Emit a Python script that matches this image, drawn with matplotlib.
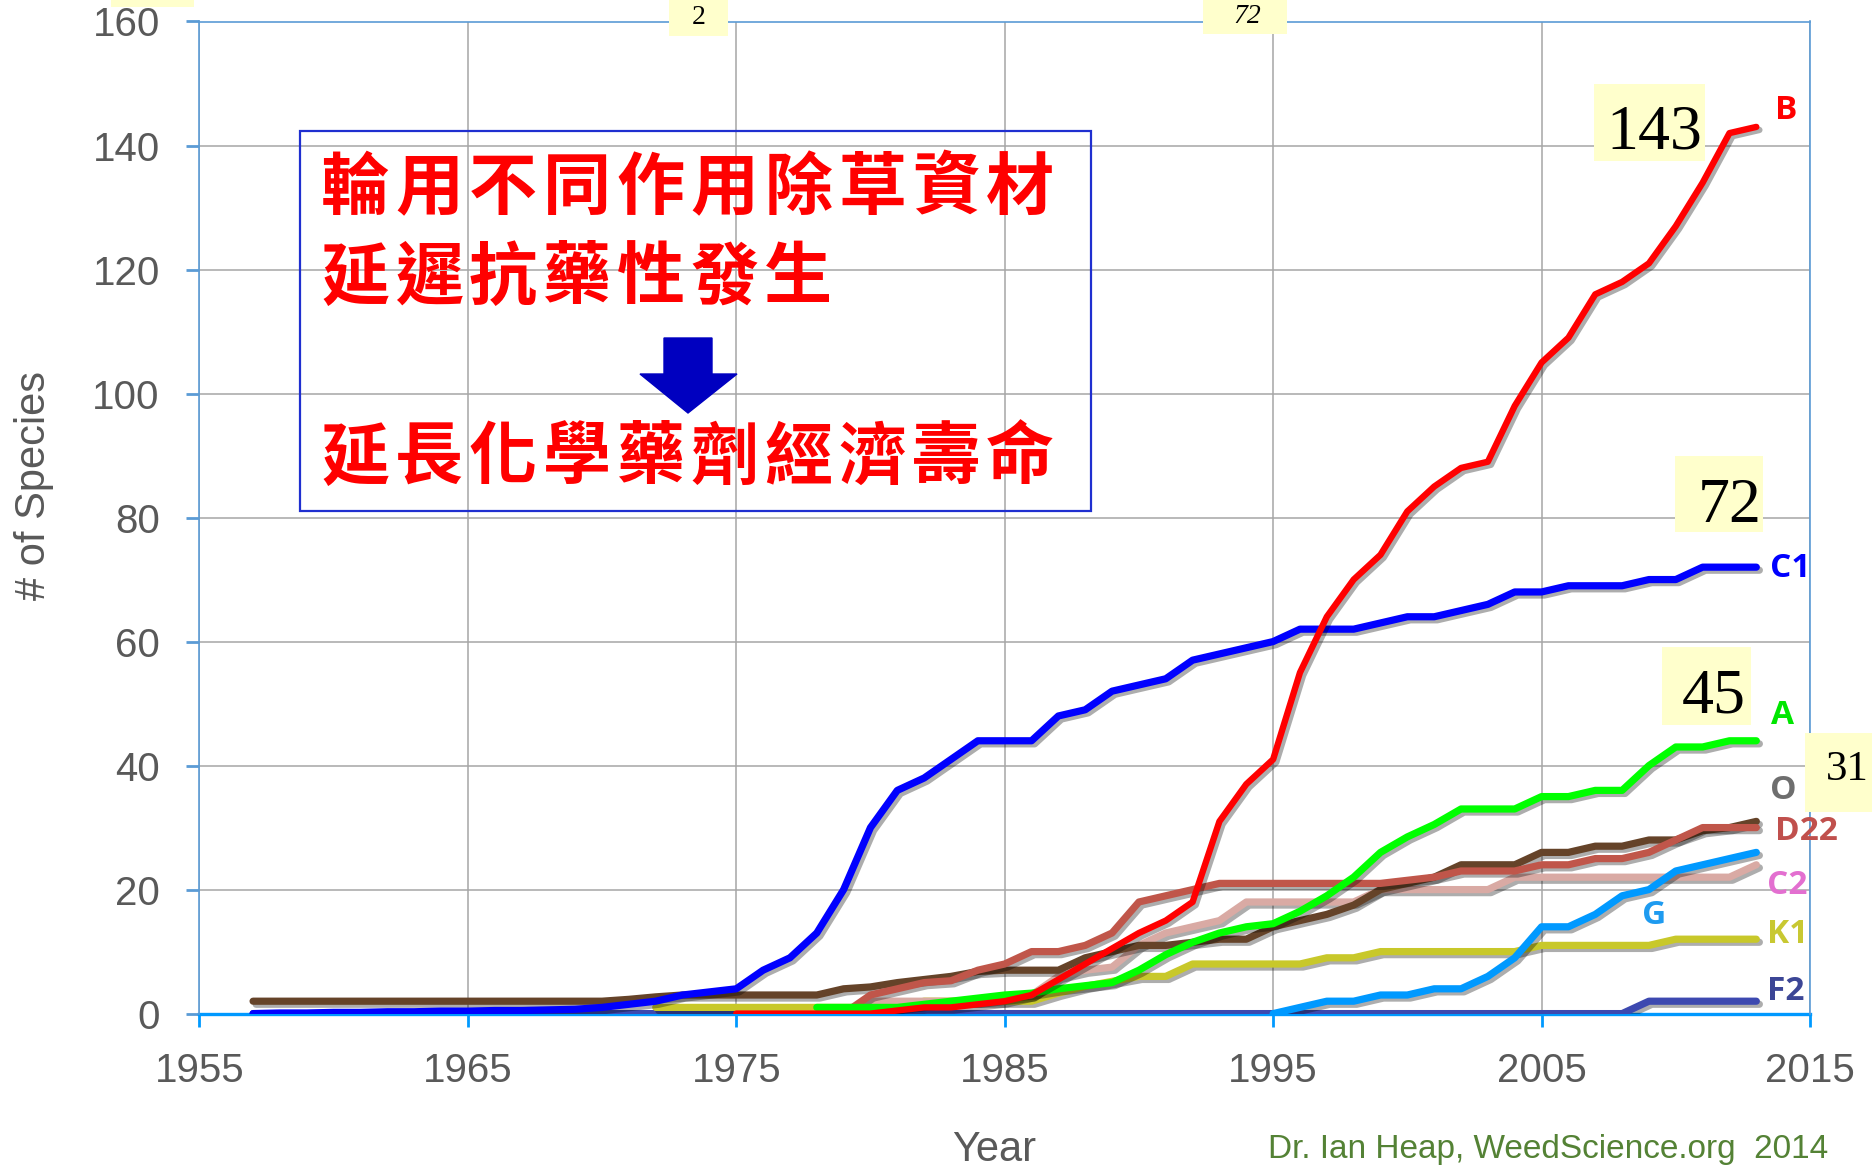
import matplotlib
matplotlib.use("Agg")
import matplotlib.pyplot as plt
import matplotlib.patheffects as pe
from matplotlib.patches import Rectangle, Polygon

# ---------------- data ----------------
series_names = ["F2", "K1", "C2", "G", "O", "D22", "A", "C1", "B"]

f2_start = 1957
f2_vals = [0] * 52 + [2, 2, 2, 2, 2]

k1_start = 1972
k1_vals = [1] * 10 + [2, 2, 2, 2, 2, 3.3, 4.4, 5.2, 6, 6, 8, 8, 8, 8, 8, 9, 9,
                      10, 10, 10, 10, 10, 10, 11, 11, 11, 11, 11, 12, 12, 12, 12]

c2_start = 1979
c2_vals = [0, 2, 2, 2, 2, 2, 2.5, 3, 6, 7, 7.5, 11, 13, 14, 15, 18, 18, 18, 18, 18,
           20, 20, 20, 20, 20, 22, 22, 22, 22, 22, 22, 22, 22, 22, 24]

g_start = 1995
g_vals = [0, 1, 2, 2, 3, 3, 4, 4, 6, 9, 14, 14, 16, 19, 20, 23, 24, 25, 26]

o_start = 1957
o_vals = [2] * 14 + [2.3, 2.7, 3, 3, 3, 3, 3, 3, 4, 4.3, 5, 5.5, 6, 6.8, 7, 7, 7, 9, 10,
                     11, 11, 11.5, 12, 12, 14, 15, 16, 17.5, 20, 21, 22, 24, 24, 24,
                     26, 26, 27, 27, 28, 28, 29.5, 30, 31]

d22_start = 1979
d22_vals = [0, 3, 4, 5, 5.3, 7, 8, 10, 10, 11, 13, 18, 19, 20, 21, 21, 21, 21, 21, 21,
            21, 21.5, 22, 23, 23, 23, 24, 24, 25, 25, 26, 28, 30, 30, 30]

a_start = 1978
a_vals = [1, 1, 1, 1, 1.5, 2, 2.5, 3, 3.3, 4, 4.5, 5, 7, 9.5, 11.5, 13, 14, 14.5, 16.5,
          19, 22, 26, 28.5, 30.5, 33, 33, 33, 35, 35, 36, 36, 40, 43, 43, 44, 44]

c1_start = 1957
c1_vals = [0, 0.1, 0.1, 0.2, 0.2, 0.3, 0.3, 0.4, 0.4, 0.5, 0.5, 0.6, 0.7,
           1, 1.5, 2, 3, 3.5, 4, 7, 9, 13, 20, 30, 36, 38, 41, 44, 44, 44, 48, 49,
           52, 53, 54, 57, 58, 59, 60, 62, 62, 62, 63, 64, 64, 65, 66, 68, 68, 69,
           69, 69, 70, 70, 72, 72, 72]

b_start = 1975
b_vals = [0, 0, 0, 0, 0, 0, 0.5, 1, 1, 1.5, 2, 3, 5.5, 8, 10.5, 13, 15, 18, 31, 37,
          41, 55, 64, 70, 74, 81, 85, 88, 89, 98, 105, 109, 116, 118, 121, 127, 134,
          142, 143]

series_starts = [f2_start, k1_start, c2_start, g_start, o_start, d22_start, a_start, c1_start, b_start]
series_values = [f2_vals, k1_vals, c2_vals, g_vals, o_vals, d22_vals, a_vals, c1_vals, b_vals]
line_colors = ["#3D49B0", "#C8C82A", "#D9AAA4", "#0099FF", "#654329", "#C0564A",
               "#00FF00", "#0000FF", "#FF0000"]
label_colors = ["#3C4696", "#C8C832", "#E36FD0", "#1E9BF0", "#6E6E6E", "#C0504D",
                "#00E600", "#0000FF", "#FF0000"]
# label anchor (year, value)
label_pos = [(2013.4, 3.5), (2013.4, 12.7), (2013.4, 20.7), (2009.2, 15.9), (2013.5, 36),
             (2013.7, 29.3), (2013.55, 48), (2013.5, 71.8), (2013.7, 145.6)]

box_numbers = ["143", "72", "45", "31", "2", "72", ""]

x_ticks = [1955, 1965, 1975, 1985, 1995, 2005, 2015]
y_ticks = [0, 20, 40, 60, 80, 100, 120, 140, 160]

text_line1 = "輪用不同作用除草資材"
text_line2 = "延遲抗藥性發生"
text_line3 = "延長化學藥劑經濟壽命"
credit = "Dr. Ian Heap, WeedScience.org  2014"

# ---------------- figure ----------------
W, H = 1872, 1168
plt.rcParams["font.family"] = ["Liberation Sans", "DejaVu Sans"]
fig = plt.figure(figsize=(W / 100, H / 100), dpi=100)
ax = fig.add_axes([199.4 / W, 1 - 1013.6 / H, (1810 - 199.4) / W, (1013.6 - 21.5) / H])

def fx(px):
    return px / W

def fy(py):
    return 1 - py / H

ax.set_xlim(1955, 2015)
ax.set_ylim(0, 160)
ax.set_xticks(x_ticks)
ax.set_yticks(y_ticks)
ax.set_xticklabels([str(t) for t in x_ticks])
ax.set_yticklabels([str(t) for t in y_ticks])
ax.grid(True, color="#A6A6A6", lw=1.1, zorder=0)
ax.set_axisbelow(True)

for s in ["left", "top", "right"]:
    ax.spines[s].set_color("#5B9BD5")
    ax.spines[s].set_linewidth(1.2)
ax.spines["bottom"].set_color("#0099FF")
ax.spines["bottom"].set_linewidth(2.4)
ax.spines["bottom"].set_zorder(1)

ax.tick_params(axis="x", direction="out", length=9, width=2, color="#0099FF",
               labelsize=29, labelcolor="#595959", pad=19)
ax.tick_params(axis="y", direction="out", length=9.5, width=2, color="#5B9BD5",
               labelsize=29, labelcolor="#595959", pad=19)

shadow = [pe.SimpleLineShadow(offset=(2.2, -2.2), shadow_color="black", alpha=0.32),
          pe.Normal()]

for i, (name, start, vals) in enumerate(zip(series_names, series_starts, series_values)):
    yrs = list(range(start, start + len(vals)))
    lw = 4.6 if name == "B" else 5.2
    ax.plot(yrs, vals, color=line_colors[i], lw=lw, solid_joinstyle="round",
            solid_capstyle="round", zorder=3 + i, path_effects=shadow)
    lx, ly = label_pos[i]
    ha = "center" if name == "G" else "left"
    ax.text(lx, ly, name, color=label_colors[i], fontsize=24, fontweight="bold",
            family=["Open Sans", "Liberation Sans", "DejaVu Sans"], ha=ha, va="center",
            zorder=20, clip_on=False)

# yellow number boxes: (x0, x1, y0, y1) in data units, text anchor, fontsize, style
boxes = [
    ((2006.94, 2011.1, 137.5, 149.9), (2011.0, 142.0), 46, "normal"),
    ((2009.96, 2013.26, 77.6, 89.9), (2013.2, 81.7), 46, "normal"),
    ((2009.5, 2012.8, 46.5, 59.1), (2012.6, 51.0), 46, "normal"),
    ((2014.8, 2017.3, 32.5, 45.2), (2017.2, 39.3), 31, "normal"),
    ((1972.5, 1974.7, 157.7, 165.0), (1973.6, 160.6), 20, "normal"),
    ((1992.4, 1995.5, 158.0, 165.0), (1994.05, 160.8), 20, "italic"),
    ((1951.7, 1954.8, 162.3, 166.0), (1953.2, 163.0), 20, "normal"),
]
for k, ((x0, x1, y0, y1), (tx, ty), fs, st) in enumerate(boxes):
    ax.add_patch(Rectangle((x0, y0), x1 - x0, y1 - y0, facecolor="#FFFFCC",
                           edgecolor="none", zorder=15, clip_on=False))
    txt = box_numbers[k]
    if txt:
        ha = "center" if k >= 4 else "right"
        ax.text(tx, ty, txt, fontsize=fs, family=["Liberation Serif", "DejaVu Serif"],
                style=st, ha=ha, va="center", color="black", zorder=16, clip_on=False)

# text box with Chinese text
fig.add_artist(Rectangle((fx(300), fy(511)), fx(1091) - fx(300), fy(131) - fy(511),
                         transform=fig.transFigure, facecolor="none",
                         edgecolor="#1F2FD0", lw=1.6, zorder=30))
cjk = ["Noto Sans CJK TC", "DejaVu Sans"]
for line, yc in [(text_line1, 189), (text_line2, 279), (text_line3, 459)]:
    for j, ch in enumerate(line):
        fig.text(fx(321 + j * 73.9), fy(yc), ch, color="#FF0000", fontsize=49,
                 fontweight=900, family=cjk, ha="left", va="center", zorder=31)

arrow_px = [(664, 338), (712, 338), (712, 374), (737, 374), (688, 413), (640, 374), (664, 374)]
fig.add_artist(Polygon([(fx(x), fy(y)) for x, y in arrow_px], closed=True,
                       transform=fig.transFigure, facecolor="#0000C0",
                       edgecolor="#0000C0", zorder=32))

# axis titles and credit
fig.text(fx(34), fy(485), "# of Species", rotation=90, fontsize=30, color="#595959",
         ha="center", va="center")
fig.text(fx(994), fy(1130), "Year", fontsize=30, color="#595959", ha="center", va="top")
fig.text(fx(1268), fy(1165), credit, fontsize=24, color="#548235", ha="left", va="bottom")

fig.savefig("out.png", dpi=100)
